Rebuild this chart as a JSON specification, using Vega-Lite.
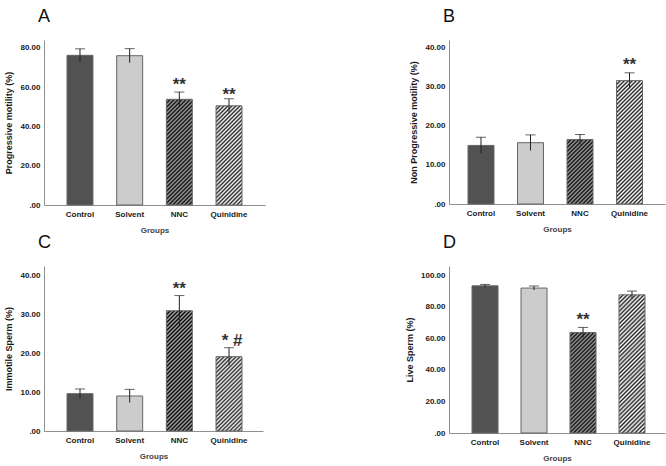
{
"$schema": "https://vega.github.io/schema/vega-lite/v6.json",
"background": "white",
"padding": {"left": 4, "top": 8, "right": 5, "bottom": 5},
"columns": 2,
"align": "none",
"bounds": "flush",
"spacing": {"row": 61, "column": 184},
"concat": [
{
 "width": 221, "height": 165,
 "title": {"text": "A"},
 "data": {"values": [
  {"group": "Control", "mean": 76.2, "lo": 72.9, "hi": 79.5},
  {"group": "Solvent", "mean": 76.0, "lo": 72.4, "hi": 79.6},
  {"group": "NNC", "mean": 53.8, "lo": 50.1, "hi": 57.5},
  {"group": "Quinidine", "mean": 50.5, "lo": 46.9, "hi": 54.1}
 ]},
 "encoding": {"x": {"field": "group", "type": "nominal", "sort": ["Control", "Solvent", "NNC", "Quinidine"], "scale": {"paddingInner": 0.477, "paddingOuter": 0.463, "align": 0.5}, "title": "Groups"}},
 "layer": [
  {"mark": {"type": "bar", "stroke": "#666", "strokeWidth": 1},
   "encoding": {
    "y": {"field": "mean", "type": "quantitative", "scale": {"domain": [0, 84], "nice": false}, "axis": {"values": [0, 20, 40, 60, 80], "labelOverlap": false, "labelExpr": "datum.value === 0 ? '.00' : format(datum.value, '.2f')"}, "title": "Progressive motility (%)"},
    "fill": {"condition": [
      {"test": "datum.group === 'Control'", "value": "#525252"},
      {"test": "datum.group === 'NNC'", "value": {"gradient": "linear", "x1": 0, "y1": 0, "x2": 0.3511, "y2": 1.4273, "stops": [{"offset":0,"color":"#000"},{"offset":0.0125,"color":"#aaa"},{"offset":0.025,"color":"#000"},{"offset":0.0375,"color":"#aaa"},{"offset":0.05,"color":"#000"},{"offset":0.0625,"color":"#aaa"},{"offset":0.075,"color":"#000"},{"offset":0.0875,"color":"#aaa"},{"offset":0.1,"color":"#000"},{"offset":0.1125,"color":"#aaa"},{"offset":0.125,"color":"#000"},{"offset":0.1375,"color":"#aaa"},{"offset":0.15,"color":"#000"},{"offset":0.1625,"color":"#aaa"},{"offset":0.175,"color":"#000"},{"offset":0.1875,"color":"#aaa"},{"offset":0.2,"color":"#000"},{"offset":0.2125,"color":"#aaa"},{"offset":0.225,"color":"#000"},{"offset":0.2375,"color":"#aaa"},{"offset":0.25,"color":"#000"},{"offset":0.2625,"color":"#aaa"},{"offset":0.275,"color":"#000"},{"offset":0.2875,"color":"#aaa"},{"offset":0.3,"color":"#000"},{"offset":0.3125,"color":"#aaa"},{"offset":0.325,"color":"#000"},{"offset":0.3375,"color":"#aaa"},{"offset":0.35,"color":"#000"},{"offset":0.3625,"color":"#aaa"},{"offset":0.375,"color":"#000"},{"offset":0.3875,"color":"#aaa"},{"offset":0.4,"color":"#000"},{"offset":0.4125,"color":"#aaa"},{"offset":0.425,"color":"#000"},{"offset":0.4375,"color":"#aaa"},{"offset":0.45,"color":"#000"},{"offset":0.4625,"color":"#aaa"},{"offset":0.475,"color":"#000"},{"offset":0.4875,"color":"#aaa"},{"offset":0.5,"color":"#000"},{"offset":0.5125,"color":"#aaa"},{"offset":0.525,"color":"#000"},{"offset":0.5375,"color":"#aaa"},{"offset":0.55,"color":"#000"},{"offset":0.5625,"color":"#aaa"},{"offset":0.575,"color":"#000"},{"offset":0.5875,"color":"#aaa"},{"offset":0.6,"color":"#000"},{"offset":0.6125,"color":"#aaa"},{"offset":0.625,"color":"#000"},{"offset":0.6375,"color":"#aaa"},{"offset":0.65,"color":"#000"},{"offset":0.6625,"color":"#aaa"},{"offset":0.675,"color":"#000"},{"offset":0.6875,"color":"#aaa"},{"offset":0.7,"color":"#000"},{"offset":0.7125,"color":"#aaa"},{"offset":0.725,"color":"#000"},{"offset":0.7375,"color":"#aaa"},{"offset":0.75,"color":"#000"},{"offset":0.7625,"color":"#aaa"},{"offset":0.775,"color":"#000"},{"offset":0.7875,"color":"#aaa"},{"offset":0.8,"color":"#000"},{"offset":0.8125,"color":"#aaa"},{"offset":0.825,"color":"#000"},{"offset":0.8375,"color":"#aaa"},{"offset":0.85,"color":"#000"},{"offset":0.8625,"color":"#aaa"},{"offset":0.875,"color":"#000"},{"offset":0.8875,"color":"#aaa"},{"offset":0.9,"color":"#000"},{"offset":0.9125,"color":"#aaa"},{"offset":0.925,"color":"#000"},{"offset":0.9375,"color":"#aaa"},{"offset":0.95,"color":"#000"},{"offset":0.9625,"color":"#aaa"},{"offset":0.975,"color":"#000"},{"offset":0.9875,"color":"#aaa"},{"offset":1,"color":"#000"}]}},
      {"test": "datum.group === 'Quinidine'", "value": {"gradient": "linear", "x1": 0, "y1": 0, "x2": 0.3955, "y2": 1.509, "stops": [{"offset":0,"color":"#222"},{"offset":0.0125,"color":"#fff"},{"offset":0.025,"color":"#222"},{"offset":0.0375,"color":"#fff"},{"offset":0.05,"color":"#222"},{"offset":0.0625,"color":"#fff"},{"offset":0.075,"color":"#222"},{"offset":0.0875,"color":"#fff"},{"offset":0.1,"color":"#222"},{"offset":0.1125,"color":"#fff"},{"offset":0.125,"color":"#222"},{"offset":0.1375,"color":"#fff"},{"offset":0.15,"color":"#222"},{"offset":0.1625,"color":"#fff"},{"offset":0.175,"color":"#222"},{"offset":0.1875,"color":"#fff"},{"offset":0.2,"color":"#222"},{"offset":0.2125,"color":"#fff"},{"offset":0.225,"color":"#222"},{"offset":0.2375,"color":"#fff"},{"offset":0.25,"color":"#222"},{"offset":0.2625,"color":"#fff"},{"offset":0.275,"color":"#222"},{"offset":0.2875,"color":"#fff"},{"offset":0.3,"color":"#222"},{"offset":0.3125,"color":"#fff"},{"offset":0.325,"color":"#222"},{"offset":0.3375,"color":"#fff"},{"offset":0.35,"color":"#222"},{"offset":0.3625,"color":"#fff"},{"offset":0.375,"color":"#222"},{"offset":0.3875,"color":"#fff"},{"offset":0.4,"color":"#222"},{"offset":0.4125,"color":"#fff"},{"offset":0.425,"color":"#222"},{"offset":0.4375,"color":"#fff"},{"offset":0.45,"color":"#222"},{"offset":0.4625,"color":"#fff"},{"offset":0.475,"color":"#222"},{"offset":0.4875,"color":"#fff"},{"offset":0.5,"color":"#222"},{"offset":0.5125,"color":"#fff"},{"offset":0.525,"color":"#222"},{"offset":0.5375,"color":"#fff"},{"offset":0.55,"color":"#222"},{"offset":0.5625,"color":"#fff"},{"offset":0.575,"color":"#222"},{"offset":0.5875,"color":"#fff"},{"offset":0.6,"color":"#222"},{"offset":0.6125,"color":"#fff"},{"offset":0.625,"color":"#222"},{"offset":0.6375,"color":"#fff"},{"offset":0.65,"color":"#222"},{"offset":0.6625,"color":"#fff"},{"offset":0.675,"color":"#222"},{"offset":0.6875,"color":"#fff"},{"offset":0.7,"color":"#222"},{"offset":0.7125,"color":"#fff"},{"offset":0.725,"color":"#222"},{"offset":0.7375,"color":"#fff"},{"offset":0.75,"color":"#222"},{"offset":0.7625,"color":"#fff"},{"offset":0.775,"color":"#222"},{"offset":0.7875,"color":"#fff"},{"offset":0.8,"color":"#222"},{"offset":0.8125,"color":"#fff"},{"offset":0.825,"color":"#222"},{"offset":0.8375,"color":"#fff"},{"offset":0.85,"color":"#222"},{"offset":0.8625,"color":"#fff"},{"offset":0.875,"color":"#222"},{"offset":0.8875,"color":"#fff"},{"offset":0.9,"color":"#222"},{"offset":0.9125,"color":"#fff"},{"offset":0.925,"color":"#222"},{"offset":0.9375,"color":"#fff"},{"offset":0.95,"color":"#222"},{"offset":0.9625,"color":"#fff"},{"offset":0.975,"color":"#222"},{"offset":0.9875,"color":"#fff"},{"offset":1,"color":"#222"}]}}
     ], "value": "#cccccc"}
   }},
  {"mark": {"type": "rule", "color": "#222", "strokeWidth": 1}, "encoding": {"y": {"field": "lo", "type": "quantitative", "title": "Progressive motility (%)"}, "y2": {"field": "hi"}}},
  {"mark": {"type": "tick", "color": "#222", "thickness": 1, "size": 10}, "encoding": {"y": {"field": "hi", "type": "quantitative", "title": "Progressive motility (%)"}}},
  {"data": {"values": [{"group": "NNC", "sig": "**", "pos": 63.8}, {"group": "Quinidine", "sig": "**", "pos": 58.3}]},
   "mark": {"type": "text", "font": "Liberation Sans", "fontSize": 17, "fontWeight": "bold", "color": "#333", "baseline": "alphabetic", "dy": 10},
   "encoding": {"y": {"field": "pos", "type": "quantitative", "title": "Progressive motility (%)"}, "text": {"field": "sig"}}}
 ]
},
{
 "width": 216, "height": 164,
 "title": {"text": "B"},
 "data": {"values": [
  {"group": "Control", "mean": 15.0, "lo": 12.9, "hi": 17.1},
  {"group": "Solvent", "mean": 15.7, "lo": 13.7, "hi": 17.7},
  {"group": "NNC", "mean": 16.5, "lo": 15.2, "hi": 17.8},
  {"group": "Quinidine", "mean": 31.6, "lo": 29.6, "hi": 33.6}
 ]},
 "encoding": {"x": {"field": "group", "type": "nominal", "sort": ["Control", "Solvent", "NNC", "Quinidine"], "scale": {"paddingInner": 0.475, "paddingOuter": 0.419, "align": 0.458}, "title": "Groups"}},
 "layer": [
  {"mark": {"type": "bar", "stroke": "#666", "strokeWidth": 1},
   "encoding": {
    "y": {"field": "mean", "type": "quantitative", "scale": {"domain": [0, 42], "nice": false}, "axis": {"values": [0, 10, 20, 30, 40], "labelOverlap": false, "labelExpr": "datum.value === 0 ? '.00' : format(datum.value, '.2f')"}, "title": "Non Progressive motility (%)"},
    "fill": {"condition": [
      {"test": "datum.group === 'Control'", "value": "#525252"},
      {"test": "datum.group === 'NNC'", "value": {"gradient": "linear", "x1": 0, "y1": 0, "x2": 0.8625, "y2": 2.136, "stops": [{"offset":0,"color":"#000"},{"offset":0.0125,"color":"#aaa"},{"offset":0.025,"color":"#000"},{"offset":0.0375,"color":"#aaa"},{"offset":0.05,"color":"#000"},{"offset":0.0625,"color":"#aaa"},{"offset":0.075,"color":"#000"},{"offset":0.0875,"color":"#aaa"},{"offset":0.1,"color":"#000"},{"offset":0.1125,"color":"#aaa"},{"offset":0.125,"color":"#000"},{"offset":0.1375,"color":"#aaa"},{"offset":0.15,"color":"#000"},{"offset":0.1625,"color":"#aaa"},{"offset":0.175,"color":"#000"},{"offset":0.1875,"color":"#aaa"},{"offset":0.2,"color":"#000"},{"offset":0.2125,"color":"#aaa"},{"offset":0.225,"color":"#000"},{"offset":0.2375,"color":"#aaa"},{"offset":0.25,"color":"#000"},{"offset":0.2625,"color":"#aaa"},{"offset":0.275,"color":"#000"},{"offset":0.2875,"color":"#aaa"},{"offset":0.3,"color":"#000"},{"offset":0.3125,"color":"#aaa"},{"offset":0.325,"color":"#000"},{"offset":0.3375,"color":"#aaa"},{"offset":0.35,"color":"#000"},{"offset":0.3625,"color":"#aaa"},{"offset":0.375,"color":"#000"},{"offset":0.3875,"color":"#aaa"},{"offset":0.4,"color":"#000"},{"offset":0.4125,"color":"#aaa"},{"offset":0.425,"color":"#000"},{"offset":0.4375,"color":"#aaa"},{"offset":0.45,"color":"#000"},{"offset":0.4625,"color":"#aaa"},{"offset":0.475,"color":"#000"},{"offset":0.4875,"color":"#aaa"},{"offset":0.5,"color":"#000"},{"offset":0.5125,"color":"#aaa"},{"offset":0.525,"color":"#000"},{"offset":0.5375,"color":"#aaa"},{"offset":0.55,"color":"#000"},{"offset":0.5625,"color":"#aaa"},{"offset":0.575,"color":"#000"},{"offset":0.5875,"color":"#aaa"},{"offset":0.6,"color":"#000"},{"offset":0.6125,"color":"#aaa"},{"offset":0.625,"color":"#000"},{"offset":0.6375,"color":"#aaa"},{"offset":0.65,"color":"#000"},{"offset":0.6625,"color":"#aaa"},{"offset":0.675,"color":"#000"},{"offset":0.6875,"color":"#aaa"},{"offset":0.7,"color":"#000"},{"offset":0.7125,"color":"#aaa"},{"offset":0.725,"color":"#000"},{"offset":0.7375,"color":"#aaa"},{"offset":0.75,"color":"#000"},{"offset":0.7625,"color":"#aaa"},{"offset":0.775,"color":"#000"},{"offset":0.7875,"color":"#aaa"},{"offset":0.8,"color":"#000"},{"offset":0.8125,"color":"#aaa"},{"offset":0.825,"color":"#000"},{"offset":0.8375,"color":"#aaa"},{"offset":0.85,"color":"#000"},{"offset":0.8625,"color":"#aaa"},{"offset":0.875,"color":"#000"},{"offset":0.8875,"color":"#aaa"},{"offset":0.9,"color":"#000"},{"offset":0.9125,"color":"#aaa"},{"offset":0.925,"color":"#000"},{"offset":0.9375,"color":"#aaa"},{"offset":0.95,"color":"#000"},{"offset":0.9625,"color":"#aaa"},{"offset":0.975,"color":"#000"},{"offset":0.9875,"color":"#aaa"},{"offset":1,"color":"#000"}]}},
      {"test": "datum.group === 'Quinidine'", "value": {"gradient": "linear", "x1": 0, "y1": 0, "x2": 0.2616, "y2": 1.2415, "stops": [{"offset":0,"color":"#222"},{"offset":0.0125,"color":"#fff"},{"offset":0.025,"color":"#222"},{"offset":0.0375,"color":"#fff"},{"offset":0.05,"color":"#222"},{"offset":0.0625,"color":"#fff"},{"offset":0.075,"color":"#222"},{"offset":0.0875,"color":"#fff"},{"offset":0.1,"color":"#222"},{"offset":0.1125,"color":"#fff"},{"offset":0.125,"color":"#222"},{"offset":0.1375,"color":"#fff"},{"offset":0.15,"color":"#222"},{"offset":0.1625,"color":"#fff"},{"offset":0.175,"color":"#222"},{"offset":0.1875,"color":"#fff"},{"offset":0.2,"color":"#222"},{"offset":0.2125,"color":"#fff"},{"offset":0.225,"color":"#222"},{"offset":0.2375,"color":"#fff"},{"offset":0.25,"color":"#222"},{"offset":0.2625,"color":"#fff"},{"offset":0.275,"color":"#222"},{"offset":0.2875,"color":"#fff"},{"offset":0.3,"color":"#222"},{"offset":0.3125,"color":"#fff"},{"offset":0.325,"color":"#222"},{"offset":0.3375,"color":"#fff"},{"offset":0.35,"color":"#222"},{"offset":0.3625,"color":"#fff"},{"offset":0.375,"color":"#222"},{"offset":0.3875,"color":"#fff"},{"offset":0.4,"color":"#222"},{"offset":0.4125,"color":"#fff"},{"offset":0.425,"color":"#222"},{"offset":0.4375,"color":"#fff"},{"offset":0.45,"color":"#222"},{"offset":0.4625,"color":"#fff"},{"offset":0.475,"color":"#222"},{"offset":0.4875,"color":"#fff"},{"offset":0.5,"color":"#222"},{"offset":0.5125,"color":"#fff"},{"offset":0.525,"color":"#222"},{"offset":0.5375,"color":"#fff"},{"offset":0.55,"color":"#222"},{"offset":0.5625,"color":"#fff"},{"offset":0.575,"color":"#222"},{"offset":0.5875,"color":"#fff"},{"offset":0.6,"color":"#222"},{"offset":0.6125,"color":"#fff"},{"offset":0.625,"color":"#222"},{"offset":0.6375,"color":"#fff"},{"offset":0.65,"color":"#222"},{"offset":0.6625,"color":"#fff"},{"offset":0.675,"color":"#222"},{"offset":0.6875,"color":"#fff"},{"offset":0.7,"color":"#222"},{"offset":0.7125,"color":"#fff"},{"offset":0.725,"color":"#222"},{"offset":0.7375,"color":"#fff"},{"offset":0.75,"color":"#222"},{"offset":0.7625,"color":"#fff"},{"offset":0.775,"color":"#222"},{"offset":0.7875,"color":"#fff"},{"offset":0.8,"color":"#222"},{"offset":0.8125,"color":"#fff"},{"offset":0.825,"color":"#222"},{"offset":0.8375,"color":"#fff"},{"offset":0.85,"color":"#222"},{"offset":0.8625,"color":"#fff"},{"offset":0.875,"color":"#222"},{"offset":0.8875,"color":"#fff"},{"offset":0.9,"color":"#222"},{"offset":0.9125,"color":"#fff"},{"offset":0.925,"color":"#222"},{"offset":0.9375,"color":"#fff"},{"offset":0.95,"color":"#222"},{"offset":0.9625,"color":"#fff"},{"offset":0.975,"color":"#222"},{"offset":0.9875,"color":"#fff"},{"offset":1,"color":"#222"}]}}
     ], "value": "#cccccc"}
   }},
  {"mark": {"type": "rule", "color": "#222", "strokeWidth": 1}, "encoding": {"y": {"field": "lo", "type": "quantitative", "title": "Non Progressive motility (%)"}, "y2": {"field": "hi"}}},
  {"mark": {"type": "tick", "color": "#222", "thickness": 1, "size": 10}, "encoding": {"y": {"field": "hi", "type": "quantitative", "title": "Non Progressive motility (%)"}}},
  {"data": {"values": [{"group": "Quinidine", "sig": "**", "pos": 36.9}]},
   "mark": {"type": "text", "font": "Liberation Sans", "fontSize": 17, "fontWeight": "bold", "color": "#333", "baseline": "alphabetic", "dy": 10},
   "encoding": {"y": {"field": "pos", "type": "quantitative", "title": "Non Progressive motility (%)"}, "text": {"field": "sig"}}}
 ]
},
{
 "width": 219, "height": 165,
 "title": {"text": "C"},
 "data": {"values": [
  {"group": "Control", "mean": 9.6, "lo": 8.4, "hi": 10.8},
  {"group": "Solvent", "mean": 9.0, "lo": 7.3, "hi": 10.7},
  {"group": "NNC", "mean": 30.9, "lo": 27.0, "hi": 34.8},
  {"group": "Quinidine", "mean": 19.1, "lo": 16.8, "hi": 21.4}
 ]},
 "encoding": {"x": {"field": "group", "type": "nominal", "sort": ["Control", "Solvent", "NNC", "Quinidine"], "scale": {"paddingInner": 0.477, "paddingOuter": 0.443, "align": 0.523}, "title": "Groups"}},
 "layer": [
  {"mark": {"type": "bar", "stroke": "#666", "strokeWidth": 1},
   "encoding": {
    "y": {"field": "mean", "type": "quantitative", "scale": {"domain": [0, 42.4], "nice": false}, "axis": {"values": [0, 10, 20, 30, 40], "labelOverlap": false, "labelExpr": "datum.value === 0 ? '.00' : format(datum.value, '.2f')"}, "title": "Immotile Sperm (%)"},
    "fill": {"condition": [
      {"test": "datum.group === 'Control'", "value": "#525252"},
      {"test": "datum.group === 'NNC'", "value": {"gradient": "linear", "x1": 0, "y1": 0, "x2": 0.2751, "y2": 1.2716, "stops": [{"offset":0,"color":"#000"},{"offset":0.0125,"color":"#aaa"},{"offset":0.025,"color":"#000"},{"offset":0.0375,"color":"#aaa"},{"offset":0.05,"color":"#000"},{"offset":0.0625,"color":"#aaa"},{"offset":0.075,"color":"#000"},{"offset":0.0875,"color":"#aaa"},{"offset":0.1,"color":"#000"},{"offset":0.1125,"color":"#aaa"},{"offset":0.125,"color":"#000"},{"offset":0.1375,"color":"#aaa"},{"offset":0.15,"color":"#000"},{"offset":0.1625,"color":"#aaa"},{"offset":0.175,"color":"#000"},{"offset":0.1875,"color":"#aaa"},{"offset":0.2,"color":"#000"},{"offset":0.2125,"color":"#aaa"},{"offset":0.225,"color":"#000"},{"offset":0.2375,"color":"#aaa"},{"offset":0.25,"color":"#000"},{"offset":0.2625,"color":"#aaa"},{"offset":0.275,"color":"#000"},{"offset":0.2875,"color":"#aaa"},{"offset":0.3,"color":"#000"},{"offset":0.3125,"color":"#aaa"},{"offset":0.325,"color":"#000"},{"offset":0.3375,"color":"#aaa"},{"offset":0.35,"color":"#000"},{"offset":0.3625,"color":"#aaa"},{"offset":0.375,"color":"#000"},{"offset":0.3875,"color":"#aaa"},{"offset":0.4,"color":"#000"},{"offset":0.4125,"color":"#aaa"},{"offset":0.425,"color":"#000"},{"offset":0.4375,"color":"#aaa"},{"offset":0.45,"color":"#000"},{"offset":0.4625,"color":"#aaa"},{"offset":0.475,"color":"#000"},{"offset":0.4875,"color":"#aaa"},{"offset":0.5,"color":"#000"},{"offset":0.5125,"color":"#aaa"},{"offset":0.525,"color":"#000"},{"offset":0.5375,"color":"#aaa"},{"offset":0.55,"color":"#000"},{"offset":0.5625,"color":"#aaa"},{"offset":0.575,"color":"#000"},{"offset":0.5875,"color":"#aaa"},{"offset":0.6,"color":"#000"},{"offset":0.6125,"color":"#aaa"},{"offset":0.625,"color":"#000"},{"offset":0.6375,"color":"#aaa"},{"offset":0.65,"color":"#000"},{"offset":0.6625,"color":"#aaa"},{"offset":0.675,"color":"#000"},{"offset":0.6875,"color":"#aaa"},{"offset":0.7,"color":"#000"},{"offset":0.7125,"color":"#aaa"},{"offset":0.725,"color":"#000"},{"offset":0.7375,"color":"#aaa"},{"offset":0.75,"color":"#000"},{"offset":0.7625,"color":"#aaa"},{"offset":0.775,"color":"#000"},{"offset":0.7875,"color":"#aaa"},{"offset":0.8,"color":"#000"},{"offset":0.8125,"color":"#aaa"},{"offset":0.825,"color":"#000"},{"offset":0.8375,"color":"#aaa"},{"offset":0.85,"color":"#000"},{"offset":0.8625,"color":"#aaa"},{"offset":0.875,"color":"#000"},{"offset":0.8875,"color":"#aaa"},{"offset":0.9,"color":"#000"},{"offset":0.9125,"color":"#aaa"},{"offset":0.925,"color":"#000"},{"offset":0.9375,"color":"#aaa"},{"offset":0.95,"color":"#000"},{"offset":0.9625,"color":"#aaa"},{"offset":0.975,"color":"#000"},{"offset":0.9875,"color":"#aaa"},{"offset":1,"color":"#000"}]}},
      {"test": "datum.group === 'Quinidine'", "value": {"gradient": "linear", "x1": 0, "y1": 0, "x2": 0.6714, "y2": 1.9187, "stops": [{"offset":0,"color":"#222"},{"offset":0.0125,"color":"#fff"},{"offset":0.025,"color":"#222"},{"offset":0.0375,"color":"#fff"},{"offset":0.05,"color":"#222"},{"offset":0.0625,"color":"#fff"},{"offset":0.075,"color":"#222"},{"offset":0.0875,"color":"#fff"},{"offset":0.1,"color":"#222"},{"offset":0.1125,"color":"#fff"},{"offset":0.125,"color":"#222"},{"offset":0.1375,"color":"#fff"},{"offset":0.15,"color":"#222"},{"offset":0.1625,"color":"#fff"},{"offset":0.175,"color":"#222"},{"offset":0.1875,"color":"#fff"},{"offset":0.2,"color":"#222"},{"offset":0.2125,"color":"#fff"},{"offset":0.225,"color":"#222"},{"offset":0.2375,"color":"#fff"},{"offset":0.25,"color":"#222"},{"offset":0.2625,"color":"#fff"},{"offset":0.275,"color":"#222"},{"offset":0.2875,"color":"#fff"},{"offset":0.3,"color":"#222"},{"offset":0.3125,"color":"#fff"},{"offset":0.325,"color":"#222"},{"offset":0.3375,"color":"#fff"},{"offset":0.35,"color":"#222"},{"offset":0.3625,"color":"#fff"},{"offset":0.375,"color":"#222"},{"offset":0.3875,"color":"#fff"},{"offset":0.4,"color":"#222"},{"offset":0.4125,"color":"#fff"},{"offset":0.425,"color":"#222"},{"offset":0.4375,"color":"#fff"},{"offset":0.45,"color":"#222"},{"offset":0.4625,"color":"#fff"},{"offset":0.475,"color":"#222"},{"offset":0.4875,"color":"#fff"},{"offset":0.5,"color":"#222"},{"offset":0.5125,"color":"#fff"},{"offset":0.525,"color":"#222"},{"offset":0.5375,"color":"#fff"},{"offset":0.55,"color":"#222"},{"offset":0.5625,"color":"#fff"},{"offset":0.575,"color":"#222"},{"offset":0.5875,"color":"#fff"},{"offset":0.6,"color":"#222"},{"offset":0.6125,"color":"#fff"},{"offset":0.625,"color":"#222"},{"offset":0.6375,"color":"#fff"},{"offset":0.65,"color":"#222"},{"offset":0.6625,"color":"#fff"},{"offset":0.675,"color":"#222"},{"offset":0.6875,"color":"#fff"},{"offset":0.7,"color":"#222"},{"offset":0.7125,"color":"#fff"},{"offset":0.725,"color":"#222"},{"offset":0.7375,"color":"#fff"},{"offset":0.75,"color":"#222"},{"offset":0.7625,"color":"#fff"},{"offset":0.775,"color":"#222"},{"offset":0.7875,"color":"#fff"},{"offset":0.8,"color":"#222"},{"offset":0.8125,"color":"#fff"},{"offset":0.825,"color":"#222"},{"offset":0.8375,"color":"#fff"},{"offset":0.85,"color":"#222"},{"offset":0.8625,"color":"#fff"},{"offset":0.875,"color":"#222"},{"offset":0.8875,"color":"#fff"},{"offset":0.9,"color":"#222"},{"offset":0.9125,"color":"#fff"},{"offset":0.925,"color":"#222"},{"offset":0.9375,"color":"#fff"},{"offset":0.95,"color":"#222"},{"offset":0.9625,"color":"#fff"},{"offset":0.975,"color":"#222"},{"offset":0.9875,"color":"#fff"},{"offset":1,"color":"#222"}]}}
     ], "value": "#cccccc"}
   }},
  {"mark": {"type": "rule", "color": "#222", "strokeWidth": 1}, "encoding": {"y": {"field": "lo", "type": "quantitative", "title": "Immotile Sperm (%)"}, "y2": {"field": "hi"}}},
  {"mark": {"type": "tick", "color": "#222", "thickness": 1, "size": 10}, "encoding": {"y": {"field": "hi", "type": "quantitative", "title": "Immotile Sperm (%)"}}},
  {"data": {"values": [{"group": "NNC", "sig": "**", "pos": 37.8}]},
   "mark": {"type": "text", "font": "Liberation Sans", "fontSize": 17, "fontWeight": "bold", "color": "#333", "baseline": "alphabetic", "dy": 10},
   "encoding": {"y": {"field": "pos", "type": "quantitative", "title": "Immotile Sperm (%)"}, "text": {"field": "sig"}}},
  {"data": {"values": [{"group": "Quinidine", "sig": "* #", "pos": 24.5}]},
   "mark": {"type": "text", "font": "Liberation Sans", "fontSize": 17, "fontWeight": "bold", "color": "#333", "baseline": "alphabetic", "dy": 10, "dx": 3},
   "encoding": {"y": {"field": "pos", "type": "quantitative", "title": "Immotile Sperm (%)"}, "text": {"field": "sig"}}}
 ]
},
{
 "width": 216, "height": 167,
 "title": {"text": "D"},
 "data": {"values": [
  {"group": "Control", "mean": 93.4, "lo": 92.5, "hi": 94.3},
  {"group": "Solvent", "mean": 92.0, "lo": 90.7, "hi": 93.3},
  {"group": "NNC", "mean": 63.8, "lo": 60.6, "hi": 67.0},
  {"group": "Quinidine", "mean": 87.7, "lo": 85.3, "hi": 90.1}
 ]},
 "encoding": {"x": {"field": "group", "type": "nominal", "sort": ["Control", "Solvent", "NNC", "Quinidine"], "scale": {"paddingInner": 0.469, "paddingOuter": 0.439, "align": 0.535}, "title": "Groups"}},
 "layer": [
  {"mark": {"type": "bar", "stroke": "#666", "strokeWidth": 1},
   "encoding": {
    "y": {"field": "mean", "type": "quantitative", "scale": {"domain": [0, 106], "nice": false}, "axis": {"values": [0, 20, 40, 60, 80, 100], "labelOverlap": false, "labelExpr": "datum.value === 0 ? '.00' : format(datum.value, '.2f')"}, "title": "Live Sperm (%)"},
    "fill": {"condition": [
      {"test": "datum.group === 'Control'", "value": "#525252"},
      {"test": "datum.group === 'NNC'", "value": {"gradient": "linear", "x1": 0, "y1": 0, "x2": 0.386, "y2": 1.492, "stops": [{"offset":0,"color":"#000"},{"offset":0.0125,"color":"#aaa"},{"offset":0.025,"color":"#000"},{"offset":0.0375,"color":"#aaa"},{"offset":0.05,"color":"#000"},{"offset":0.0625,"color":"#aaa"},{"offset":0.075,"color":"#000"},{"offset":0.0875,"color":"#aaa"},{"offset":0.1,"color":"#000"},{"offset":0.1125,"color":"#aaa"},{"offset":0.125,"color":"#000"},{"offset":0.1375,"color":"#aaa"},{"offset":0.15,"color":"#000"},{"offset":0.1625,"color":"#aaa"},{"offset":0.175,"color":"#000"},{"offset":0.1875,"color":"#aaa"},{"offset":0.2,"color":"#000"},{"offset":0.2125,"color":"#aaa"},{"offset":0.225,"color":"#000"},{"offset":0.2375,"color":"#aaa"},{"offset":0.25,"color":"#000"},{"offset":0.2625,"color":"#aaa"},{"offset":0.275,"color":"#000"},{"offset":0.2875,"color":"#aaa"},{"offset":0.3,"color":"#000"},{"offset":0.3125,"color":"#aaa"},{"offset":0.325,"color":"#000"},{"offset":0.3375,"color":"#aaa"},{"offset":0.35,"color":"#000"},{"offset":0.3625,"color":"#aaa"},{"offset":0.375,"color":"#000"},{"offset":0.3875,"color":"#aaa"},{"offset":0.4,"color":"#000"},{"offset":0.4125,"color":"#aaa"},{"offset":0.425,"color":"#000"},{"offset":0.4375,"color":"#aaa"},{"offset":0.45,"color":"#000"},{"offset":0.4625,"color":"#aaa"},{"offset":0.475,"color":"#000"},{"offset":0.4875,"color":"#aaa"},{"offset":0.5,"color":"#000"},{"offset":0.5125,"color":"#aaa"},{"offset":0.525,"color":"#000"},{"offset":0.5375,"color":"#aaa"},{"offset":0.55,"color":"#000"},{"offset":0.5625,"color":"#aaa"},{"offset":0.575,"color":"#000"},{"offset":0.5875,"color":"#aaa"},{"offset":0.6,"color":"#000"},{"offset":0.6125,"color":"#aaa"},{"offset":0.625,"color":"#000"},{"offset":0.6375,"color":"#aaa"},{"offset":0.65,"color":"#000"},{"offset":0.6625,"color":"#aaa"},{"offset":0.675,"color":"#000"},{"offset":0.6875,"color":"#aaa"},{"offset":0.7,"color":"#000"},{"offset":0.7125,"color":"#aaa"},{"offset":0.725,"color":"#000"},{"offset":0.7375,"color":"#aaa"},{"offset":0.75,"color":"#000"},{"offset":0.7625,"color":"#aaa"},{"offset":0.775,"color":"#000"},{"offset":0.7875,"color":"#aaa"},{"offset":0.8,"color":"#000"},{"offset":0.8125,"color":"#aaa"},{"offset":0.825,"color":"#000"},{"offset":0.8375,"color":"#aaa"},{"offset":0.85,"color":"#000"},{"offset":0.8625,"color":"#aaa"},{"offset":0.875,"color":"#000"},{"offset":0.8875,"color":"#aaa"},{"offset":0.9,"color":"#000"},{"offset":0.9125,"color":"#aaa"},{"offset":0.925,"color":"#000"},{"offset":0.9375,"color":"#aaa"},{"offset":0.95,"color":"#000"},{"offset":0.9625,"color":"#aaa"},{"offset":0.975,"color":"#000"},{"offset":0.9875,"color":"#aaa"},{"offset":1,"color":"#000"}]}},
      {"test": "datum.group === 'Quinidine'", "value": {"gradient": "linear", "x1": 0, "y1": 0, "x2": 0.2191, "y2": 1.1638, "stops": [{"offset":0,"color":"#222"},{"offset":0.0125,"color":"#fff"},{"offset":0.025,"color":"#222"},{"offset":0.0375,"color":"#fff"},{"offset":0.05,"color":"#222"},{"offset":0.0625,"color":"#fff"},{"offset":0.075,"color":"#222"},{"offset":0.0875,"color":"#fff"},{"offset":0.1,"color":"#222"},{"offset":0.1125,"color":"#fff"},{"offset":0.125,"color":"#222"},{"offset":0.1375,"color":"#fff"},{"offset":0.15,"color":"#222"},{"offset":0.1625,"color":"#fff"},{"offset":0.175,"color":"#222"},{"offset":0.1875,"color":"#fff"},{"offset":0.2,"color":"#222"},{"offset":0.2125,"color":"#fff"},{"offset":0.225,"color":"#222"},{"offset":0.2375,"color":"#fff"},{"offset":0.25,"color":"#222"},{"offset":0.2625,"color":"#fff"},{"offset":0.275,"color":"#222"},{"offset":0.2875,"color":"#fff"},{"offset":0.3,"color":"#222"},{"offset":0.3125,"color":"#fff"},{"offset":0.325,"color":"#222"},{"offset":0.3375,"color":"#fff"},{"offset":0.35,"color":"#222"},{"offset":0.3625,"color":"#fff"},{"offset":0.375,"color":"#222"},{"offset":0.3875,"color":"#fff"},{"offset":0.4,"color":"#222"},{"offset":0.4125,"color":"#fff"},{"offset":0.425,"color":"#222"},{"offset":0.4375,"color":"#fff"},{"offset":0.45,"color":"#222"},{"offset":0.4625,"color":"#fff"},{"offset":0.475,"color":"#222"},{"offset":0.4875,"color":"#fff"},{"offset":0.5,"color":"#222"},{"offset":0.5125,"color":"#fff"},{"offset":0.525,"color":"#222"},{"offset":0.5375,"color":"#fff"},{"offset":0.55,"color":"#222"},{"offset":0.5625,"color":"#fff"},{"offset":0.575,"color":"#222"},{"offset":0.5875,"color":"#fff"},{"offset":0.6,"color":"#222"},{"offset":0.6125,"color":"#fff"},{"offset":0.625,"color":"#222"},{"offset":0.6375,"color":"#fff"},{"offset":0.65,"color":"#222"},{"offset":0.6625,"color":"#fff"},{"offset":0.675,"color":"#222"},{"offset":0.6875,"color":"#fff"},{"offset":0.7,"color":"#222"},{"offset":0.7125,"color":"#fff"},{"offset":0.725,"color":"#222"},{"offset":0.7375,"color":"#fff"},{"offset":0.75,"color":"#222"},{"offset":0.7625,"color":"#fff"},{"offset":0.775,"color":"#222"},{"offset":0.7875,"color":"#fff"},{"offset":0.8,"color":"#222"},{"offset":0.8125,"color":"#fff"},{"offset":0.825,"color":"#222"},{"offset":0.8375,"color":"#fff"},{"offset":0.85,"color":"#222"},{"offset":0.8625,"color":"#fff"},{"offset":0.875,"color":"#222"},{"offset":0.8875,"color":"#fff"},{"offset":0.9,"color":"#222"},{"offset":0.9125,"color":"#fff"},{"offset":0.925,"color":"#222"},{"offset":0.9375,"color":"#fff"},{"offset":0.95,"color":"#222"},{"offset":0.9625,"color":"#fff"},{"offset":0.975,"color":"#222"},{"offset":0.9875,"color":"#fff"},{"offset":1,"color":"#222"}]}}
     ], "value": "#cccccc"}
   }},
  {"mark": {"type": "rule", "color": "#222", "strokeWidth": 1}, "encoding": {"y": {"field": "lo", "type": "quantitative", "title": "Live Sperm (%)", "axis": {"values": [0, 20, 40, 60, 80, 100], "labelOverlap": false, "labelExpr": "datum.value === 0 ? '.00' : format(datum.value, '.2f')"}}, "y2": {"field": "hi"}}},
  {"mark": {"type": "tick", "color": "#222", "thickness": 1, "size": 10}, "encoding": {"y": {"field": "hi", "type": "quantitative", "title": "Live Sperm (%)", "axis": {"values": [0, 20, 40, 60, 80, 100], "labelOverlap": false, "labelExpr": "datum.value === 0 ? '.00' : format(datum.value, '.2f')"}}}},
  {"data": {"values": [{"group": "NNC", "sig": "**", "pos": 75.0}]},
   "mark": {"type": "text", "font": "Liberation Sans", "fontSize": 17, "fontWeight": "bold", "color": "#333", "baseline": "alphabetic", "dy": 10},
   "encoding": {"y": {"field": "pos", "type": "quantitative", "title": "Live Sperm (%)", "axis": {"values": [0, 20, 40, 60, 80, 100], "labelOverlap": false, "labelExpr": "datum.value === 0 ? '.00' : format(datum.value, '.2f')"}}, "text": {"field": "sig"}}}
 ]
}
],
"config": {
 "view": {"stroke": null},
 "axis": {"domainColor": "#8f8f8f", "domainWidth": 1, "ticks": false, "grid": false, "labelOverlap": false, "labelFont": "Liberation Sans", "labelFontSize": 8, "labelFontWeight": "bold", "labelColor": "#1a1a1a", "titleFont": "Liberation Sans", "titleFontWeight": "bold", "titleColor": "#1a1a1a"},
 "axisX": {"labelAngle": 0, "labelPadding": 5, "titlePadding": 8, "titleFontSize": 8, "titleColor": "#444"},
 "axisY": {"labelPadding": 4, "titlePadding": 6, "titleFontSize": 9},
 "title": {"anchor": "start", "frame": "group", "font": "Liberation Sans", "fontSize": 18, "fontWeight": "normal", "color": "#111", "dx": -6, "offset": 14}
}
}
